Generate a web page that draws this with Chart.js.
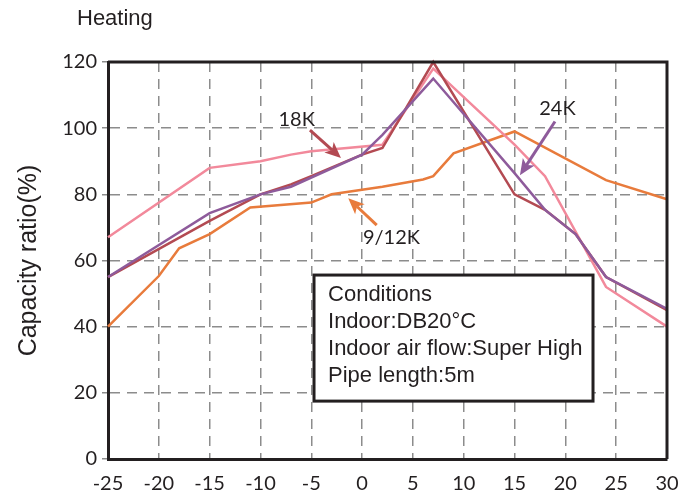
<!DOCTYPE html>
<html>
<head>
<meta charset="utf-8">
<script src="https://cdn.jsdelivr.net/npm/chart.js@4/dist/chart.umd.min.js"></script>
<style>
  html, body { margin: 0; padding: 0; background: #fff; }
</style>
</head>
<body>
<canvas id="heatChart" width="699" height="501"></canvas>
<script>
// outdoor temperature (x) and capacity ratio (y) for each model
const pinkTemps = [-25, -15, -10, -7, -5, 2, 7, 15, 18, 24, 30];
const pinkRatio = [67, 88, 90, 92, 93, 95, 118, 95, 85.5, 52, 40];

const redTemps = [-25, -15, -10, -7, -5, 0, 2, 7, 15, 18, 21, 24, 30];
const redRatio = [55, 72, 80, 83, 85.5, 92, 94, 120, 80, 75.3, 68, 55, 45];

const purpleTemps = [-25, -15, -10, -7, 0, 2, 7, 15, 18, 21, 24, 30];
const purpleRatio = [55, 74.3, 80, 82.3, 92, 98, 115, 86.4, 75.3, 68, 55, 45.4];

const orangeTemps = [-25, -20, -18, -15, -11, -5, -3, 2, 6, 7, 9, 15, 24, 30];
const orangeRatio = [40, 55.3, 63.7, 68, 76, 77.5, 80, 82.3, 84.5, 85.5, 92.4, 99, 84.3, 78.5];

const xTicks = [-25, -20, -15, -10, -5, 0, 5, 10, 15, 20, 25, 30];
const yTicks = [0, 20, 40, 60, 80, 100, 120];

const conditionLines = ['Conditions', 'Indoor:DB20°C', 'Indoor air flow:Super High', 'Pipe length:5m'];

const INK = '#231f20';
const PINK = '#f2899b';
const RED = '#b34a52';
const PURPLE = '#8e5b9b';
const ORANGE = '#e87b3c';

// callouts, in data units
const callouts = [
    { text: '18K', lx: -6.43, ly: 102.5, x1: -5.13, y1: 99.4, x2: -2.08, y2: 91.0, color: RED },
    { text: '24K', lx: 19.22, ly: 105.8, x1: 18.98, y1: 102.0, x2: 15.53, y2: 85.8, color: PURPLE },
    { text: '9/12K', lx: 2.89, ly: 66.8, x1: 1.44, y1: 70.7, x2: -1.36, y2: 78.8, color: ORANGE }
];
const conditionBox = { x1: -4.73, y1: 55.6, x2: 22.72, y2: 17.5 };

function toPoints(xs, ys) {
    return xs.map((x, i) => ({ x: x, y: ys[i] }));
}

function drawArrow(ctx, x1, y1, x2, y2, color) {
    const ang = Math.atan2(y2 - y1, x2 - x1);
    const head = 16, half = 7;
    const cos = Math.cos(ang), sin = Math.sin(ang);
    const bx = x2 - head * cos, by = y2 - head * sin;
    ctx.strokeStyle = color;
    ctx.lineWidth = 3;
    ctx.beginPath();
    ctx.moveTo(x1, y1);
    ctx.lineTo(x2 - (head - 4) * cos, y2 - (head - 4) * sin);
    ctx.stroke();
    ctx.fillStyle = color;
    ctx.beginPath();
    ctx.moveTo(x2, y2);
    ctx.lineTo(bx - half * sin, by + half * cos);
    ctx.lineTo(x2 - (head - 4) * cos, y2 - (head - 4) * sin);
    ctx.lineTo(bx + half * sin, by - half * cos);
    ctx.closePath();
    ctx.fill();
}

const extrasPlugin = {
    id: 'extras',
    afterDraw(chart) {
        const ctx = chart.ctx;
        const xs = chart.scales.x, ys = chart.scales.y;
        const area = chart.chartArea;
        ctx.save();

        // frame top + right
        ctx.strokeStyle = INK;
        ctx.lineWidth = 3;
        ctx.beginPath();
        ctx.moveTo(area.left, area.top);
        ctx.lineTo(area.right, area.top);
        ctx.lineTo(area.right, area.bottom);
        ctx.stroke();

        // title
        ctx.fillStyle = INK;
        ctx.font = '22px "Liberation Sans", Arial, sans-serif';
        ctx.textAlign = 'left';
        ctx.textBaseline = 'middle';
        ctx.fillText('Heating', 77, 19);

        // callouts
        callouts.forEach(c => {
            drawArrow(ctx, xs.getPixelForValue(c.x1), ys.getPixelForValue(c.y1),
                xs.getPixelForValue(c.x2), ys.getPixelForValue(c.y2), c.color);
            ctx.fillStyle = INK;
            ctx.font = '20px Lato, sans-serif';
            ctx.textAlign = 'center';
            ctx.textBaseline = 'middle';
            ctx.fillText(c.text, xs.getPixelForValue(c.lx), ys.getPixelForValue(c.ly));
        });

        // conditions box
        const bl = xs.getPixelForValue(conditionBox.x1);
        const bt = ys.getPixelForValue(conditionBox.y1);
        const br = xs.getPixelForValue(conditionBox.x2);
        const bb = ys.getPixelForValue(conditionBox.y2);
        ctx.fillStyle = '#fff';
        ctx.fillRect(bl, bt, br - bl, bb - bt);
        ctx.strokeStyle = INK;
        ctx.lineWidth = 3;
        ctx.strokeRect(bl, bt, br - bl, bb - bt);
        ctx.fillStyle = INK;
        ctx.font = '22px "Liberation Sans", Arial, sans-serif';
        ctx.textAlign = 'left';
        ctx.textBaseline = 'middle';
        conditionLines.forEach((line, i) => {
            ctx.fillText(line, bl + 14, bt + 20 + i * 27);
        });

        ctx.restore();
    }
};

const lineStyle = { borderWidth: 2.5, pointRadius: 0, fill: false, tension: 0, clip: false };

new Chart(document.getElementById('heatChart'), {
    type: 'line',
    data: {
        datasets: [
            Object.assign({ label: '24K', data: toPoints(purpleTemps, purpleRatio), borderColor: PURPLE }, lineStyle),
            Object.assign({ label: '18K', data: toPoints(redTemps, redRatio), borderColor: RED }, lineStyle),
            Object.assign({ label: 'pink', data: toPoints(pinkTemps, pinkRatio), borderColor: PINK }, lineStyle),
            Object.assign({ label: '9/12K', data: toPoints(orangeTemps, orangeRatio), borderColor: ORANGE }, lineStyle)
        ]
    },
    options: {
        responsive: false,
        animation: false,
        layout: { padding: { top: 62, right: 32, left: 0, bottom: 0 } },
        plugins: {
            legend: { display: false },
            tooltip: { enabled: false }
        },
        scales: {
            x: {
                type: 'linear',
                min: -25,
                max: 30,
                afterBuildTicks: scale => { scale.ticks = xTicks.map(v => ({ value: v })); },
                afterFit: scale => { scale.height = 42; },
                grid: { color: '#8c8c8c', lineWidth: 1.5, drawTicks: false },
                border: { display: true, color: INK, width: 3, dash: [10, 7] },
                ticks: { color: INK, padding: 13, font: { family: 'Lato', size: 20 }, maxRotation: 0 }
            },
            y: {
                min: 0,
                max: 120,
                afterBuildTicks: scale => { scale.ticks = yTicks.map(v => ({ value: v })); },
                afterFit: scale => { scale.width = 108; },
                grid: { color: '#8c8c8c', lineWidth: 1.5, drawTicks: true, tickLength: 6, tickColor: '#8c8c8c' },
                border: { display: true, color: INK, width: 3, dash: [10, 7] },
                ticks: { color: INK, padding: 5, font: { family: 'Lato', size: 20 } },
                title: {
                    display: true,
                    text: 'Capacity ratio(%)',
                    color: INK,
                    font: { family: '"Liberation Sans", Arial, sans-serif', size: 25 },
                    padding: { top: 14, bottom: 0 }
                }
            }
        }
    },
    plugins: [extrasPlugin]
});
</script>
</body>
</html>
